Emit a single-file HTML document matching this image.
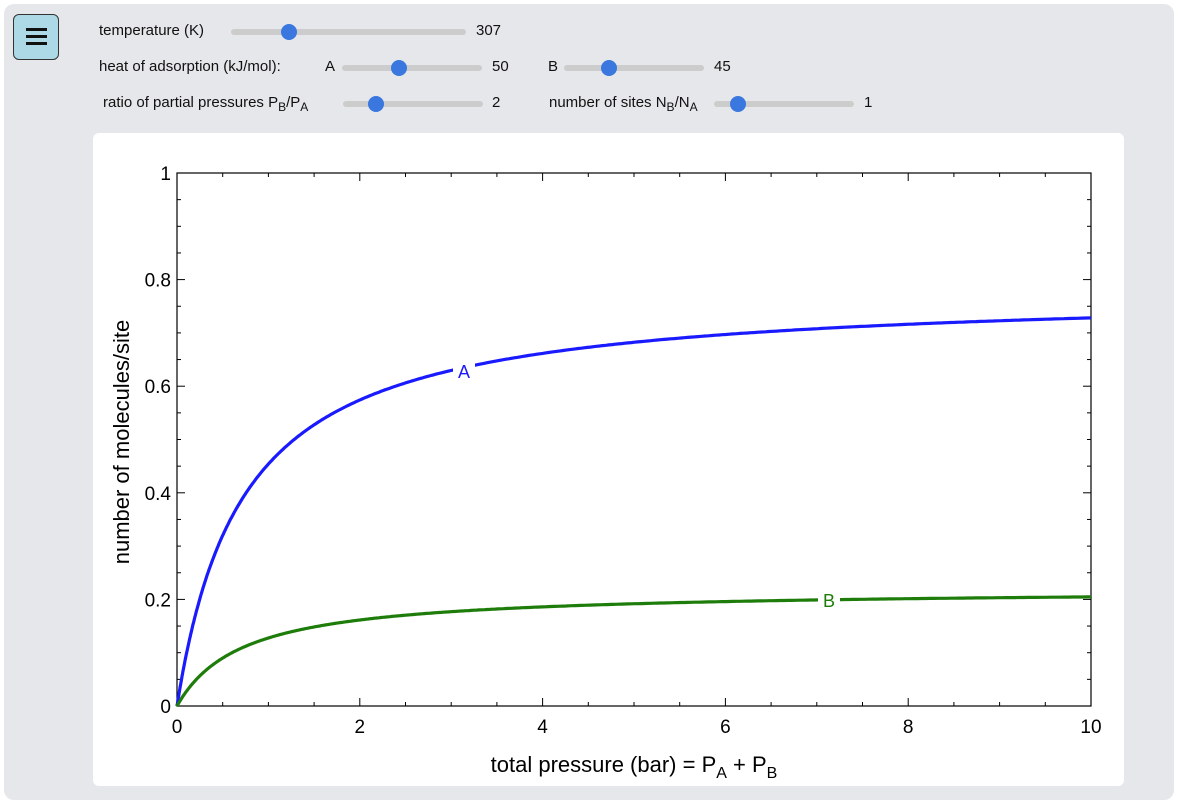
<!DOCTYPE html>
<html><head><style>
body{margin:0;width:1178px;height:803px;background:#fff;font-family:"Liberation Sans",Arial,sans-serif;overflow:hidden;position:relative}
.outer{position:absolute;left:4px;top:4px;width:1170px;height:796px;background:#e6e7ea;border-radius:10px}
.menu{position:absolute;left:13px;top:14px;width:46px;height:46px;background:#add8e6;border:1px solid #333;border-radius:6px;box-sizing:border-box}
.menu i{position:absolute;left:12px;width:21px;height:2.5px;background:#111}
.lbl{position:absolute;font-size:15px;color:#111;white-space:nowrap}
.track{position:absolute;height:6px;background:#ccc;border-radius:3px}
.knob{position:absolute;width:16px;height:16px;background:#3a78e0;border-radius:50%}
sub{font-size:12px;vertical-align:-4px}
.panel{position:absolute;left:93px;top:133px;width:1031px;height:653px;background:#fff;border-radius:6px}
</style></head><body>
<div class="outer"></div>
<div class="menu"><i style="top:13px"></i><i style="top:20px"></i><i style="top:27px"></i></div>
<div class="lbl" style="left:99px;top:22px">temperature (K)</div>
<div class="track" style="left:231px;top:29px;width:235px"></div><div class="knob" style="left:281px;top:24px"></div>
<div class="lbl" style="left:476px;top:22px">307</div>
<div class="lbl" style="left:99px;top:58px">heat of adsorption (kJ/mol):</div>
<div class="lbl" style="left:325px;top:58px">A</div>
<div class="track" style="left:342px;top:65px;width:140px"></div><div class="knob" style="left:391px;top:60px"></div>
<div class="lbl" style="left:492px;top:58px">50</div>
<div class="lbl" style="left:548px;top:58px">B</div>
<div class="track" style="left:564px;top:65px;width:140px"></div><div class="knob" style="left:601px;top:60px"></div>
<div class="lbl" style="left:714px;top:58px">45</div>
<div class="lbl" style="left:103px;top:94px">ratio of partial pressures P<sub>B</sub>/P<sub>A</sub></div>
<div class="track" style="left:343px;top:101px;width:140px"></div><div class="knob" style="left:368px;top:96px"></div>
<div class="lbl" style="left:492px;top:94px">2</div>
<div class="lbl" style="left:549px;top:94px">number of sites N<sub>B</sub>/N<sub>A</sub></div>
<div class="track" style="left:714px;top:101px;width:140px"></div><div class="knob" style="left:730px;top:96px"></div>
<div class="lbl" style="left:864px;top:94px">1</div>
<div class="panel"></div>
<svg id="s" width="1178" height="803" style="position:absolute;left:0;top:0" font-family="Liberation Sans, Arial, sans-serif"></svg>
<script>
var L=177,R=1091,T=173,B=706,s='';
function X(p){return L+(R-L)*p/10}function Y(v){return B-(B-T)*v}
for(var i=0;i<=40;i++){var p=i*0.25;if(i%2)continue;var x=X(p),len=(i%8==0)?8:4;
s+='<line x1="'+x+'" y1="'+B+'" x2="'+x+'" y2="'+(B-len)+'" stroke="#000"/><line x1="'+x+'" y1="'+T+'" x2="'+x+'" y2="'+(T+len)+'" stroke="#000"/>';
if(i%8==0)s+='<text x="'+x+'" y="'+(B+27)+'" font-size="19" text-anchor="middle">'+p+'</text>';}
for(var j=0;j<=20;j++){var v=j*0.05,y=Y(v),len=(j%4==0)?8:4;
s+='<line x1="'+L+'" y1="'+y+'" x2="'+(L+len)+'" y2="'+y+'" stroke="#000"/><line x1="'+R+'" y1="'+y+'" x2="'+(R-len)+'" y2="'+y+'" stroke="#000"/>';
if(j%4==0)s+='<text x="'+(L-6)+'" y="'+(y+7)+'" font-size="19" text-anchor="end">'+(j==0?'0':j==20?'1':(v.toFixed(1)))+'</text>';}
s+='<rect x="'+L+'" y="'+T+'" width="'+(R-L)+'" height="'+(B-T)+'" fill="none" stroke="#000" stroke-width="1.2"/>';
var a=1.085,b=0.305,pa='',pb='';
for(var k=0;k<=400;k++){var p=10*Math.pow(k/400,2),d=1+(a+b)*p;
pa+=(k?'L':'M')+X(p).toFixed(1)+','+Y(a*p/d).toFixed(1);pb+=(k?'L':'M')+X(p).toFixed(1)+','+Y(b*p/d).toFixed(1);}
s+='<path d="'+pa+'" fill="none" stroke="#1a1aff" stroke-width="3.2"/><path d="'+pb+'" fill="none" stroke="#1e7d0a" stroke-width="3.2"/>';
s+='<rect x="453" y="360" width="22" height="22" fill="#fff"/><text x="464" y="378" font-size="18" fill="#1a1aff" text-anchor="middle">A</text>';
s+='<rect x="818" y="589" width="22" height="22" fill="#fff"/><text x="829" y="607" font-size="18" fill="#1e7d0a" text-anchor="middle">B</text>';
s+='<text x="634" y="772" font-size="22" text-anchor="middle">total pressure (bar) = P<tspan font-size="16" dy="6">A</tspan><tspan dy="-6"> + P</tspan><tspan font-size="16" dy="6">B</tspan></text>';
s+='<text transform="translate(129,442) rotate(-90)" font-size="22" text-anchor="middle">number of molecules/site</text>';
document.getElementById('s').innerHTML=s;
</script>
</body></html>
